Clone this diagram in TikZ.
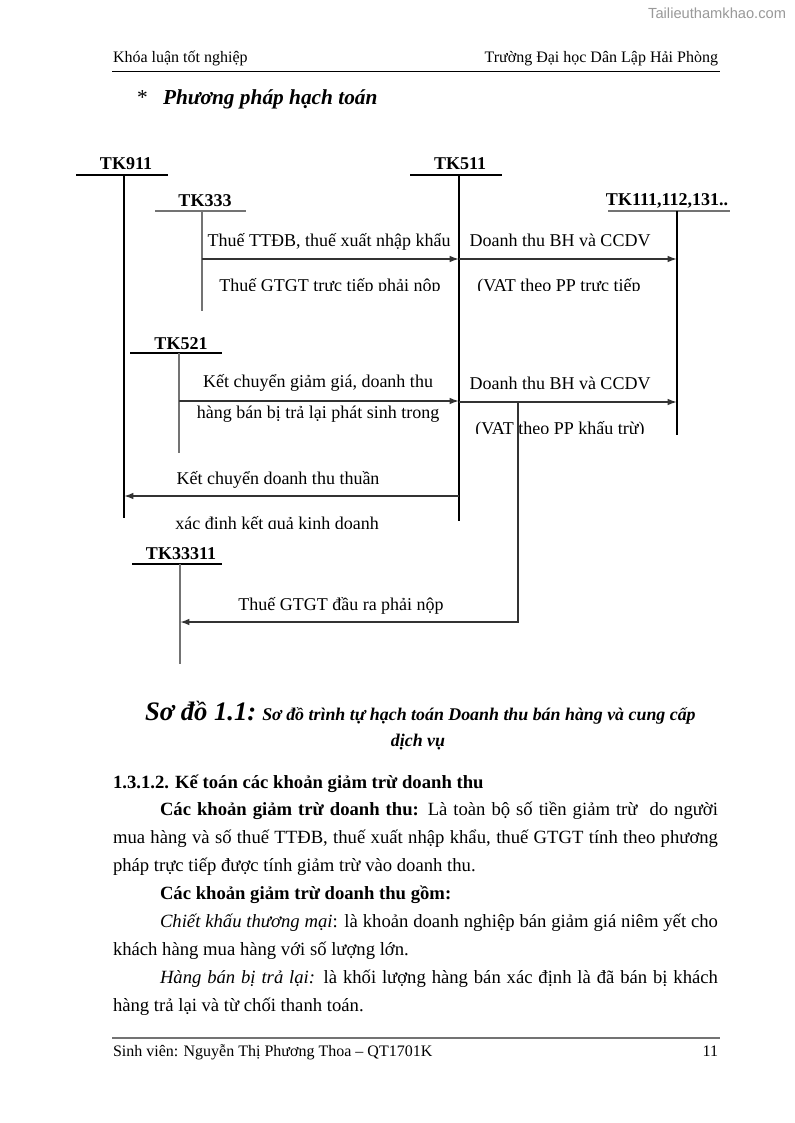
\documentclass[tikz,border=0pt]{standalone}
\usepackage{fontspec}
\setmainfont{Liberation Serif}
\newfontfamily\wmfont{Liberation Sans}
\usetikzlibrary{arrows.meta}
\newcommand{\jline}[2]{\makebox[#1][s]{#2}}
\begin{document}
\begin{tikzpicture}[x=0.75pt,y=-0.75pt,
  txt/.style={inner sep=0pt,outer sep=0pt},
  lab/.style={txt,anchor=base,font=\fontsize{13.5}{16}\selectfont},
  tk/.style={txt,anchor=base,font=\fontsize{13.5}{16}\selectfont\bfseries},
  acc/.style={line width=0.9pt,black},
  accg/.style={line width=1.1pt,black!55},
  flow/.style={line width=1.3pt,black!80,-{Latex[length=7pt,width=5pt]}},
  body/.style={txt,anchor=base west,font=\fontsize{14}{21}\selectfont},
  hdr/.style={txt,font=\fontsize{12}{14}\selectfont},
]
\useasboundingbox[fill=white] (0,0) rectangle (794,1123);

% watermark and header
\node[txt,anchor=base east,font=\wmfont\fontsize{11}{13}\selectfont,text=black!40] (wm) at (786,19) {Tailieuthamkhao.com};
\node[hdr,anchor=base west] (hl) at (113,63) {Khóa luận tốt nghiệp};
\node[hdr,anchor=base east] (hr) at (718,63) {Trường Đại học Dân Lập Hải Phòng};
\coordinate (hrl) at (112,71); \coordinate (hrr) at (720,71);
\draw[line width=0.7pt] (hrl) -- (hrr);

% section title
\node[txt,anchor=base west,font=\fontsize{16}{19}\selectfont] (star) at (137,105) {*};
\node[txt,anchor=base west,font=\fontsize{16}{19}\selectfont\bfseries\itshape] (title) at (163,105) {Phương pháp hạch toán};

% ---------- accounts ----------
\node[tk] (l911) at (126,170) {TK911};
\coordinate (h911a) at (76,175); \coordinate (h911b) at (168,175);
\coordinate (v911t) at (124,175); \coordinate (v911b) at (124,518);
\draw[acc] (h911a) -- (h911b); \draw[acc] (v911t) -- (v911b);

\node[tk] (l511) at (460,170) {TK511};
\coordinate (h511a) at (410,175); \coordinate (h511b) at (502,175);
\coordinate (v511t) at (459,175); \coordinate (v511b) at (459,521);
\draw[acc] (h511a) -- (h511b); \draw[acc] (v511t) -- (v511b);

\node[tk] (l333) at (205,207) {TK333};
\coordinate (h333a) at (155,211); \coordinate (h333b) at (246,211);
\coordinate (v333t) at (202,211); \coordinate (v333b) at (202,311);
\draw[accg] (h333a) -- (h333b); \draw[accg] (v333t) -- (v333b);

\node[tk] (l111) at (667,205) {TK111,112,131..};
\coordinate (h111a) at (608,211); \coordinate (h111b) at (730,211);
\coordinate (v111t) at (677,211); \coordinate (v111b) at (677,435);
\draw[accg] (h111a) -- (h111b); \draw[acc] (v111t) -- (v111b);

\node[tk] (l521) at (181,349) {TK521};
\coordinate (h521a) at (130,353); \coordinate (h521b) at (222,353);
\coordinate (v521t) at (179,353); \coordinate (v521b) at (179,453);
\draw[acc] (h521a) -- (h521b); \draw[accg] (v521t) -- (v521b);

\node[tk] (l33311) at (181,559) {TK33311};
\coordinate (h3a) at (132,564); \coordinate (h3b) at (222,564);
\coordinate (v3t) at (180,564); \coordinate (v3b) at (180,664);
\draw[acc] (h3a) -- (h3b); \draw[accg] (v3t) -- (v3b);

% ---------- flows ----------
% 333 -> 511
\coordinate (f1s) at (202,259); \coordinate (f1e) at (459,259);
\draw[flow] (f1s) -- (f1e);
\node[lab] (t1a) at (329,247) {Thuế TTĐB, thuế xuất nhập khẩu};
\begin{scope}\clip (195,262) rectangle (455,290.5);
\node[lab] (t1b) at (330,291.5) {Thuế GTGT trực tiếp phải nộp};
\end{scope}

% 511 -> 111 (direct method)
\coordinate (f2s) at (459,259); \coordinate (f2e) at (677,259);
\draw[flow] (f2s) -- (f2e);
\node[lab] (t2a) at (560,247) {Doanh thu BH và CCDV};
\begin{scope}\clip (462,262) rectangle (672,290.5);
\node[lab] (t2b) at (559,291.5) {(VAT theo PP trực tiếp};
\end{scope}

% 521 -> 511
\coordinate (f3s) at (179,401); \coordinate (f3e) at (459,401);
\draw[flow] (f3s) -- (f3e);
\node[lab] (t3a) at (318,387) {Kết chuyển giảm giá, doanh thu};
\node[lab] (t3b) at (318,418) {hàng bán bị trả lại phát sinh trong};

% 511 -> 111 (deduction method)
\coordinate (f4s) at (459,402); \coordinate (f4e) at (677,402);
\draw[flow] (f4s) -- (f4e);
\node[lab] (t4a) at (560,389) {Doanh thu BH và CCDV};
\begin{scope}\clip (462,405) rectangle (672,433.5);
\node[lab] (t4b) at (560,434.5) {(VAT theo PP khấu trừ)};
\end{scope}

% 511 -> 911
\coordinate (f5s) at (459,496); \coordinate (f5e) at (124,496);
\draw[flow] (f5s) -- (f5e);
\node[lab] (t5a) at (278,484) {Kết chuyển doanh thu thuần};
\begin{scope}\clip (130,500) rectangle (455,528.5);
\node[lab] (t5b) at (277,529.5) {xác định kết quả kinh doanh};
\end{scope}

% 111 -> 33311
\coordinate (f6s) at (518,402); \coordinate (f6m) at (518,622); \coordinate (f6e) at (180,622);
\draw[flow] (f6s) -- (f6m) -- (f6e);
\node[lab] (t6a) at (341,610) {Thuế GTGT đầu ra phải nộp};

% ---------- caption ----------
\node[txt,anchor=base west,font=\bfseries\itshape] (cap1) at (145,720)
  {\fontsize{20}{23}\selectfont Sơ đồ 1.1:\fontsize{13.4}{16}\selectfont{} Sơ đồ trình tự hạch toán Doanh thu bán hàng và cung cấp};
\node[txt,anchor=base,font=\fontsize{13.4}{16}\selectfont\bfseries\itshape] (cap2) at (418,746) {dịch vụ};

% ---------- body text ----------
\node[body,font=\fontsize{14}{21}\selectfont\bfseries] (hd) at (113,788) {1.3.1.2. Kế toán các khoản giảm trừ doanh thu};
\node[body] (p1) at (160,815) {\jline{418.5pt}{\textbf{Các khoản giảm trừ doanh thu:} Là toàn bộ số tiền giảm trừ \ do người}};
\node[body] (p2) at (113,843) {\jline{453.75pt}{mua hàng và số thuế TTĐB, thuế xuất nhập khẩu, thuế GTGT tính theo phương}};
\node[body] (p3) at (113,871) {pháp trực tiếp được tính giảm trừ vào doanh thu.};
\node[body,font=\fontsize{14}{21}\selectfont\bfseries] (p4) at (160,899) {Các khoản giảm trừ doanh thu gồm:};
\node[body] (p5) at (160,927) {\jline{418.5pt}{\textit{Chiết khấu thương mại}: là khoản doanh nghiệp bán giảm giá niêm yết cho}};
\node[body] (p6) at (113,955) {khách hàng mua hàng với số lượng lớn.};
\node[body] (p7) at (160,983) {\jline{418.5pt}{\textit{Hàng bán bị trả lại:} là khối lượng hàng bán xác định là đã bán bị khách}};
\node[body] (p8) at (113,1011) {hàng trả lại và từ chối thanh toán.};

% ---------- footer ----------
\coordinate (frl) at (112,1038); \coordinate (frr) at (720,1038);
\draw[line width=0.8pt,black!55] (frl) -- (frr);
\node[hdr,anchor=base west] (fl) at (113,1056) {Sinh viên: Nguyễn Thị Phương Thoa – QT1701K};
\node[hdr,anchor=base east] (fr) at (718,1056) {11};
\end{tikzpicture}
\end{document}
